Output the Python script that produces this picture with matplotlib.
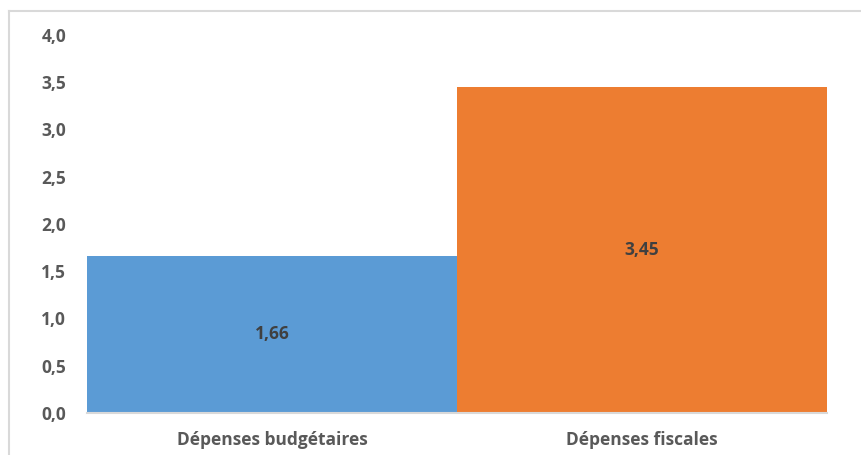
import matplotlib.pyplot as plt
from matplotlib.lines import Line2D

categories = ['Dépenses budgétaires', 'Dépenses fiscales']
values = [1.66, 3.45]
colors = ['#5B9BD5', '#ED7D31']
yticks = [0.0, 0.5, 1.0, 1.5, 2.0, 2.5, 3.0, 3.5, 4.0]

plt.rcParams['font.family'] = ['Open Sans', 'DejaVu Sans']
text_color = '#595959'

fig = plt.figure(figsize=(8.62, 4.55), dpi=100)
ax = fig.add_axes([87 / 862, 42 / 455, 740 / 862, 378.4 / 455])

x = list(range(len(categories)))
bars = ax.bar(x, values, width=1.0, color=colors, zorder=2)
for b, v in zip(bars, values):
    ax.text(b.get_x() + b.get_width() / 2, v / 2, f'{v:.2f}'.replace('.', ','),
            ha='center', va='center', fontsize=12.5, fontweight='bold', color='#404040')

ax.set_xlim(-0.5, len(categories) - 0.5)
ax.set_ylim(0, 4.0)
ax.set_yticks(yticks)
ax.set_yticklabels([f'{t:.1f}'.replace('.', ',') for t in yticks])
ax.set_xticks(x)
ax.set_xticklabels(categories)
for lab in ax.get_xticklabels() + ax.get_yticklabels():
    lab.set_fontweight('bold')
    lab.set_color(text_color)
    lab.set_fontsize(12.5)
ax.tick_params(axis='both', length=0)
ax.tick_params(axis='y', pad=15)
ax.tick_params(axis='x', pad=13)

for s in ['top', 'right', 'left']:
    ax.spines[s].set_visible(False)
ax.spines['bottom'].set_color('#d9d9d9')
ax.spines['bottom'].set_linewidth(1.5)

# outer chart frame (partially visible)
fig.add_artist(Line2D([9.5 / 862, 9.5 / 862], [0, 1 - 11 / 455], color='#d9d9d9', lw=1.5))
fig.add_artist(Line2D([9.5 / 862, 1], [1 - 11 / 455, 1 - 11 / 455], color='#d9d9d9', lw=1.5))

fig.savefig('out.png', dpi=100)
